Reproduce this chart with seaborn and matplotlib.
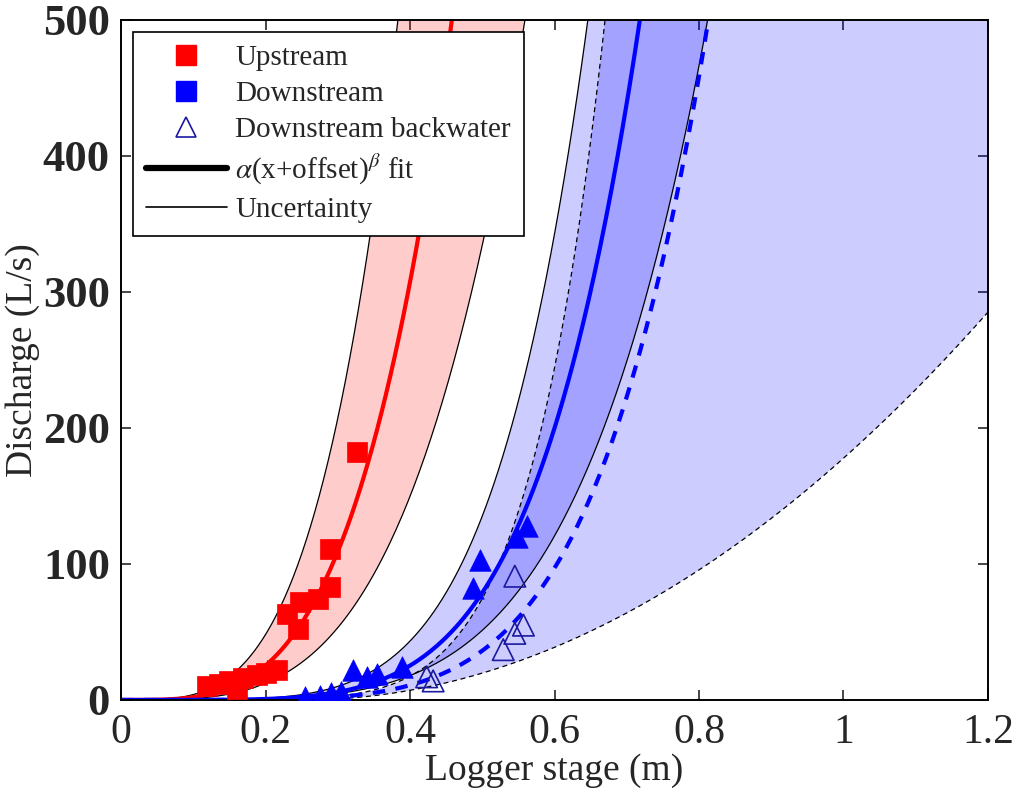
import numpy as np
import pandas as pd
import matplotlib
matplotlib.use("Agg")
import matplotlib.pyplot as plt
from matplotlib.lines import Line2D
import seaborn as sns

# Gauged discharge measurements
up_stage = [0.119, 0.135, 0.150, 0.160, 0.169, 0.188, 0.200, 0.216, 0.230, 0.245, 0.248, 0.273, 0.289, 0.289, 0.327]
up_q = [10, 12, 14, 8, 16, 18, 20, 22, 63, 52, 72, 74, 83, 111, 182]

dn_stage = [0.255, 0.275, 0.290, 0.305, 0.321, 0.340, 0.354, 0.389, 0.487, 0.497, 0.548, 0.562]
dn_q = [2, 3, 5, 6, 22, 17, 19, 24, 82, 103, 120, 128]

bw_stage = [0.423, 0.432, 0.529, 0.545, 0.557, 0.545]
bw_q = [17, 14, 37, 49, 55, 91]

# Rating curve parameters: alpha, offset, beta  (fit, upper, lower)
up_fit = [8320, 0.0, 3.6]
up_hi = [15800, 0.0, 3.6]
up_lo = [4055, 0.0, 3.6]

dn_fit = [2706, 0.0, 5.1]
dn_hi = [4638, 0.0, 5.1]
dn_lo = [1331, 0.0, 4.7]

bw_fit = [1530, 0.0, 5.4]
bw_hi = [6757, 0.0, 6.5]
bw_lo = [316, -0.25, 2.0]

x_ticks = [0, 0.2, 0.4, 0.6, 0.8, 1.0, 1.2]
x_tick_labels = ["0", "0.2", "0.4", "0.6", "0.8", "1", "1.2"]
y_ticks = [0, 100, 200, 300, 400, 500]

sns.set_style("ticks")
plt.rcParams["font.family"] = ["Liberation Serif", "DejaVu Serif"]
plt.rcParams["mathtext.fontset"] = "stix"

stage = np.linspace(0, 1.2, 600)


def rating(p, h):
    a, off, b = p
    base = np.clip(h + off, 0, None)
    return a * base ** b


fig = plt.figure(figsize=(10.13, 7.92), dpi=100)
ax = fig.add_axes([0.1195, 0.1162, 0.8558, 0.8586])

blue = "#0000ff"
red = "#ff0000"

# uncertainty envelopes
ax.fill_between(stage, rating(up_lo, stage), rating(up_hi, stage), color=red, alpha=0.2, lw=0)
ax.fill_between(stage, rating(dn_lo, stage), rating(dn_hi, stage), color=blue, alpha=0.2, lw=0)
ax.fill_between(stage, rating(bw_lo, stage), rating(bw_hi, stage), color=blue, alpha=0.2, lw=0)

curves = pd.DataFrame({"stage": stage})
for name, p in [("up_hi", up_hi), ("up_lo", up_lo), ("dn_hi", dn_hi), ("dn_lo", dn_lo),
                ("bw_hi", bw_hi), ("bw_lo", bw_lo), ("up_fit", up_fit), ("dn_fit", dn_fit),
                ("bw_fit", bw_fit)]:
    curves[name] = rating(p, stage)

for col in ["up_hi", "up_lo", "dn_hi", "dn_lo"]:
    sns.lineplot(data=curves, x="stage", y=col, ax=ax, color="black", lw=0.9)
for col in ["bw_hi", "bw_lo"]:
    sns.lineplot(data=curves, x="stage", y=col, ax=ax, color="black", lw=0.9,
                 dashes=False, linestyle=(0, (4, 3)))

sns.lineplot(data=curves, x="stage", y="up_fit", ax=ax, color=red, lw=3)
sns.lineplot(data=curves, x="stage", y="dn_fit", ax=ax, color=blue, lw=3)
sns.lineplot(data=curves, x="stage", y="bw_fit", ax=ax, color=blue, lw=3,
             linestyle=(0, (3, 2.5)))

sns.scatterplot(x=up_stage, y=up_q, ax=ax, marker="s", s=210, color=red, edgecolor=red,
                linewidth=0.5, zorder=5)
sns.scatterplot(x=dn_stage, y=dn_q, ax=ax, marker="^", s=240, color=blue, edgecolor=blue,
                linewidth=0.5, zorder=5)
sns.scatterplot(x=bw_stage, y=bw_q, ax=ax, marker="^", s=240, facecolor="none",
                edgecolor="#1a1aa0", linewidth=1.2, zorder=5)

ax.set_xlim(0, 1.2)
ax.set_ylim(0, 500)
ax.set_xticks(x_ticks)
ax.set_xticklabels(x_tick_labels)
ax.set_yticks(y_ticks)
ax.tick_params(direction="in", length=7, width=1.2, top=True, right=True)
ax.tick_params(axis="x", labelsize=30, pad=10)
ax.tick_params(axis="y", labelsize=32, pad=8)
for lab in ax.get_yticklabels():
    lab.set_fontweight("bold")
for sp in ax.spines.values():
    sp.set_linewidth(1.4)
    sp.set_color("black")
ax.set_xlabel("Logger stage (m)", fontsize=27, labelpad=1)
ax.set_ylabel("Discharge (L/s)", fontsize=27, labelpad=2)

handles = [
    Line2D([], [], marker="s", ls="none", color=red, markersize=15),
    Line2D([], [], marker="s", ls="none", color=blue, markersize=15),
    Line2D([], [], marker="^", ls="none", markerfacecolor="none",
           markeredgecolor="#1a1aa0", markersize=15, markeredgewidth=1.2),
    Line2D([], [], color="black", lw=4.5),
    Line2D([], [], color="black", lw=1.2),
]
labels = ["Upstream", "Downstream", "Downstream backwater",
          r"$\alpha$(x+offset)$^{\beta}$ fit", "Uncertainty"]
leg = ax.legend(handles, labels, loc="upper left", bbox_to_anchor=(0.014, 0.983),
                fontsize=21, frameon=True, fancybox=False, framealpha=1,
                edgecolor="black", borderpad=0.45, labelspacing=0.33,
                handlelength=2.75, handletextpad=0.3, borderaxespad=0)
leg.get_frame().set_linewidth(1.2)

fig.savefig("out.png", dpi=100)
